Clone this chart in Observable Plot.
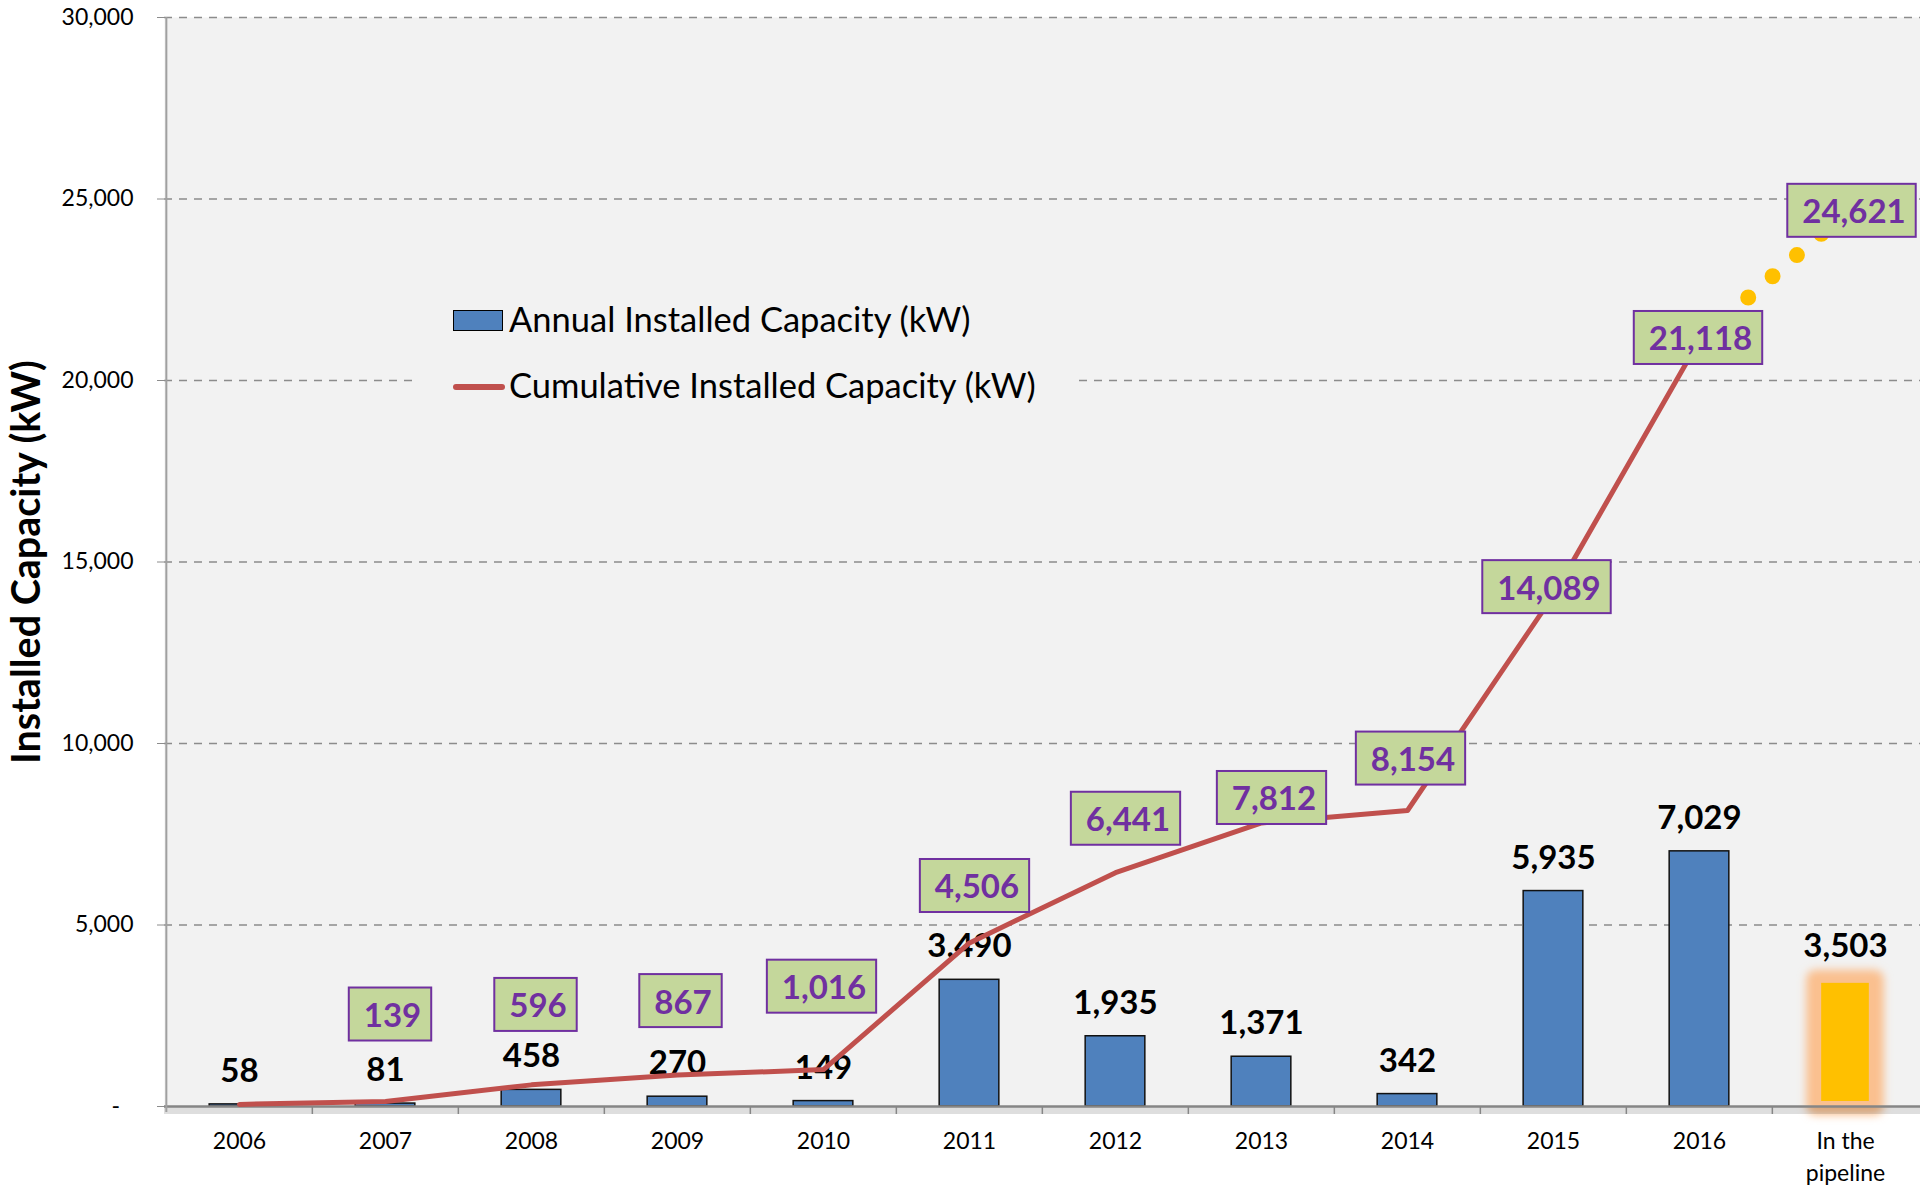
<!DOCTYPE html>
<html><head><meta charset="utf-8">
<script src="https://cdn.jsdelivr.net/npm/d3@7"></script>
<script src="https://cdn.jsdelivr.net/npm/@observablehq/plot@0.6"></script>
<style>
html,body{margin:0;padding:0;background:#fff;}
#wrap{position:relative;width:1920px;height:1186px;overflow:hidden;font-family:Lato,sans-serif;}
#legend{position:absolute;left:416px;top:285px;width:662px;height:130px;background:#f2f2f2;}
.sw-bar{position:absolute;left:37px;top:25px;width:50px;height:21px;box-sizing:border-box;background:#4F81BD;border:1.5px solid #000;}
.sw-line{position:absolute;left:37px;top:99px;width:52px;height:6px;background:#C0504D;border-radius:3px;}
.ltxt{position:absolute;left:93px;font-size:34.5px;line-height:34px;color:#000;white-space:nowrap;}
</style></head>
<body>
<div id="wrap">
  <div id="legend">
    <div class="sw-bar"></div><div class="ltxt" style="top:17px">Annual Installed Capacity (kW)</div>
    <div class="sw-line"></div><div class="ltxt" style="top:83px">Cumulative Installed Capacity (kW)</div>
  </div>
</div>
<script>
const categories = ["2006","2007","2008","2009","2010","2011","2012","2013","2014","2015","2016","In the pipeline"];
const annual = [58, 81, 458, 270, 149, 3490, 1935, 1371, 342, 5935, 7029, 3503];
const cumulative = [58, 139, 596, 867, 1016, 4506, 6441, 7812, 8154, 14089, 21118, 24621];
const yTicks = [0, 5000, 10000, 15000, 20000, 25000, 30000];
const yTitle = "Installed Capacity (kW)";
const pipelineCategory = "In the pipeline";

// label offsets (pixels) for the cumulative callouts, 2007..pipeline
const labelDx = [7, 6.5, 5.5, 0.5, 7.5, 12.5, 12.5, 5.5, -4.5, 1, 8.5];
const labelDy = [-85, -78, -72, -81, -55, -52, -23, -50, -6, 0, 0];

const fmt = d3.format(",");
const rows = categories.map((c, i) => ({cat: c, annual: annual[i], cum: cumulative[i]}));
const actual = rows.filter(d => d.cat !== pipelineCategory);
const pipe = rows.filter(d => d.cat === pipelineCategory);
const dotted = rows.slice(-2);

const W = 1920, H = 1186, mL = 164, mR = 0, mT = 17, mB = 80;
const bw = (W - mL - mR) / categories.length;
const barW = 60;
const inset = (bw - barW) / 2;

const callouts = rows.slice(1).map((d, i) =>
  Plot.text([d], {x: "cat", y: "cum", text: d => fmt(d.cum), dx: labelDx[i], dy: labelDy[i],
    fill: "#7030A0", fontSize: 33, fontWeight: "bold"}));

const svg = Plot.plot({
  width: W, height: H,
  marginLeft: mL, marginRight: mR, marginTop: mT, marginBottom: mB,
  style: {fontFamily: "Lato, sans-serif", background: "white", color: "black"},
  x: {type: "band", domain: categories, padding: 0},
  y: {domain: [0, 30000]},
  marks: [
    Plot.frame({fill: "#f2f2f2", stroke: "none"}),
    Plot.ruleY(yTicks.filter(d => d > 0), {stroke: "#8c8c8c", strokeWidth: 1.5, strokeDasharray: "8,7"}),
    Plot.axisY({ticks: yTicks, tickSize: 7, tickPadding: 24, stroke: "#8c8c8c", fill: "black", fontSize: 23,
      label: null, tickFormat: d => d === 0 ? "-\u2007" : fmt(d)}),
    Plot.text([yTitle], {frameAnchor: "left", textAnchor: "middle", text: d => d, rotate: -90, dx: -137,
      fontSize: 39.5, fontWeight: "bold", fill: "black"}),
    // pipeline bar glow + fill
    Plot.barY(pipe, {x: "cat", y: "annual", fill: "#FAC08F", stroke: "#FAC08F", strokeWidth: 18,
      strokeLinejoin: "round", insetLeft: inset, insetRight: inset}),
    Plot.barY(pipe, {x: "cat", y: "annual", fill: "#FFC000", insetLeft: inset + 6, insetRight: inset + 6, insetTop: 4, insetBottom: 5}),
    Plot.barY(actual, {x: "cat", y: "annual", fill: "#4F81BD", stroke: "#111", strokeWidth: 1.5,
      insetLeft: inset, insetRight: inset}),
    // axes lines
    Plot.ruleY([0], {stroke: "#000", strokeOpacity: 0.13, strokeWidth: 7, dy: 4}),
    Plot.ruleY([0], {stroke: "#868686", strokeWidth: 2.5}),
    Plot.ruleX([categories[0]], {dx: -bw / 2, stroke: "#a0a0a0", strokeWidth: 2, insetBottom: -6}),
    Plot.ruleX(categories.slice(1), {x: d => d, y1: 0, y2: 0, dx: -bw / 2, insetBottom: -8, stroke: "#868686", strokeWidth: 1.5}),
    Plot.axisX({tickSize: 0, tickPadding: 20, fontSize: 23, lineHeight: 1.38, label: null, fill: "black",
      tickFormat: d => d.replace(" pipeline", "\npipeline")}),
    // annual labels
    Plot.text(rows, {x: "cat", y: "annual", text: d => fmt(d.annual), dy: -33, fontSize: 33, fontWeight: "bold", fill: "black"}),
    // cumulative line
    Plot.line(actual, {x: "cat", y: "cum", stroke: "#C0504D", strokeWidth: 5, strokeLinejoin: "round"}),
    Plot.line(dotted, {x: "cat", y: "cum", stroke: "#FFC000", strokeWidth: 16, strokeLinecap: "round", strokeDasharray: "0,32.3"}),
    ...callouts
  ]
});

const wrap = document.getElementById("wrap");
wrap.insertBefore(svg, document.getElementById("legend"));

const NS = "http://www.w3.org/2000/svg";
// glow filter for pipeline bar
const defs = document.createElementNS(NS, "defs");
defs.innerHTML = '<filter id="glow" x="-50%" y="-20%" width="200%" height="140%"><feGaussianBlur stdDeviation="4.5"/></filter>';
svg.insertBefore(defs, svg.firstChild);
svg.querySelectorAll("g").forEach(g => {
  const f = (g.getAttribute("fill") || "").toLowerCase();
  if (f === "#fac08f") g.setAttribute("filter", "url(#glow)");
  if (f === "#7030a0") {
    g.querySelectorAll("text").forEach(t => {
      const bb = t.getBBox();
      const r = document.createElementNS(NS, "rect");
      r.setAttribute("x", bb.x - 15);
      r.setAttribute("width", bb.width + 25);
      r.setAttribute("y", bb.y + bb.height / 2 - 26.5);
      r.setAttribute("height", 53);
      const tr = t.getAttribute("transform");
      if (tr) r.setAttribute("transform", tr);
      r.setAttribute("fill", "#C4D79B");
      r.setAttribute("stroke", "#7030A0");
      r.setAttribute("stroke-width", 2);
      t.parentNode.insertBefore(r, t);
    });
  }
});
</script>
</body></html>
